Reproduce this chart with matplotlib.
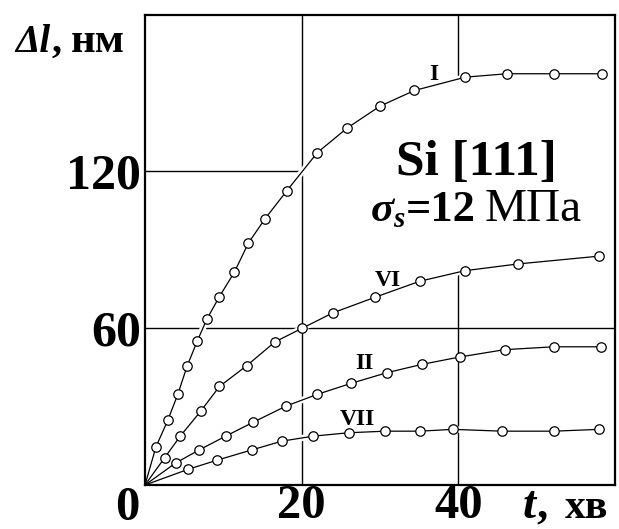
import matplotlib
matplotlib.use('Agg')
import matplotlib.pyplot as plt
from matplotlib.patches import Rectangle

# ---- data ----
t_I = [0, 1.4, 2.9, 4.2, 5.4, 6.7, 7.9, 9.5, 11.4, 13.2, 15.3, 18.1, 22.0, 25.8, 30.0, 34.4, 40.9, 46.2, 52.2, 58.3]
dl_I = [0, 14.6, 24.7, 34.8, 45.7, 55.3, 63.5, 72.1, 81.4, 92.6, 101.8, 112.6, 127.2, 136.6, 145.0, 151.0, 156.1, 157.4, 157.4, 157.4]

t_VI = [0, 2.5, 4.5, 7.1, 9.5, 13.0, 16.6, 20.0, 24.0, 29.4, 35.1, 40.8, 47.6, 58.0]
dl_VI = [0, 10.4, 18.7, 28.2, 37.7, 45.7, 54.8, 59.9, 65.9, 71.9, 78.0, 82.0, 84.6, 87.6]

t_II = [0, 3.9, 6.9, 10.3, 13.8, 18.0, 22.0, 26.3, 30.9, 35.4, 40.2, 45.9, 52.2, 58.2]
dl_II = [0, 8.4, 13.4, 18.7, 24.0, 30.2, 34.7, 38.9, 43.0, 46.2, 49.0, 51.8, 52.9, 52.9]

t_VII = [0, 5.5, 9.2, 13.6, 17.5, 21.5, 26.0, 30.7, 35.1, 39.3, 45.6, 52.2, 58.0]
dl_VII = [0, 6.0, 9.5, 13.4, 16.8, 18.7, 20.0, 20.6, 20.6, 21.3, 20.6, 20.6, 21.3]

curve_names = ['I', 'VI', 'II', 'VII']
x_ticks = [20, 40]
y_ticks = [60, 120]

# ---- style ----
SERIF = 'Liberation Serif'

W, H = 619, 529
fig = plt.figure(figsize=(W / 100, H / 100), dpi=100)
renderer = fig.canvas.get_renderer()
ax = fig.add_axes([145 / W, 44 / H, 470 / W, 470.3 / H])
ax.set_xlim(0, 60)
ax.set_ylim(0, 180)

for s in ax.spines.values():
    s.set_linewidth(1.6)
    s.set_color('black')
    s.set_zorder(2.5)

ax.set_xticks(x_ticks)
ax.set_xticklabels([str(v) for v in x_ticks])
ax.set_yticks(y_ticks)
ax.set_yticklabels([str(v) for v in y_ticks])
ax.tick_params(axis='x', length=0, labelsize=35, pad=-0.5)
ax.tick_params(axis='y', length=0, labelsize=36, pad=3)
for lab in ax.get_xticklabels() + ax.get_yticklabels():
    lab.set_fontfamily(SERIF)
    lab.set_fontweight('bold')
ax.set_axisbelow(True)
ax.grid(True, color='black', linewidth=1.0)

# white area behind the annotation text
ax.add_patch(Rectangle((20.3, 82.5), 39.6, 72.0, facecolor='white',
                       edgecolor='none', zorder=1.5))

series = [(t_I, dl_I), (t_VI, dl_VI), (t_II, dl_II), (t_VII, dl_VII)]
for t, d in series:
    ax.plot(t, d, color='white', linewidth=4.5, zorder=2.0, solid_capstyle='butt')
for t, d in series:
    ax.plot(t, d, color='black', linewidth=0.9, zorder=3)
    ax.plot(t[1:], d[1:], linestyle='none', marker='o', markersize=6.8,
            markerfacecolor='white', markeredgecolor='black',
            markeredgewidth=0.9, zorder=4)

# curve labels
label_pos = [(36.9, 155.0), (31.0, 76.3), (28.0, 44.3), (27.1, 22.9)]
for name, (x, y) in zip(curve_names, label_pos):
    ax.text(x, y, name, ha='center', va='baseline', fontsize=17,
            fontfamily=SERIF, fontweight='bold', zorder=5)


def put(x_px, y_px, s, **kw):
    """Place text left/baseline at pixel position, return its right edge (px)."""
    txt = fig.text(x_px / W, 1 - y_px / H, s, ha='left', va='baseline',
                   fontfamily=SERIF, **kw)
    return txt.get_window_extent(renderer).x1


# annotation
put(396, 175, 'Si [111]', fontsize=37, fontweight='bold')
x = 371
x = put(x, 221, 'σ', fontsize=31, fontweight='bold', fontstyle='italic')
x = put(x - 1, 227, 's', fontsize=21, fontweight='bold', fontstyle='italic')
x = put(x + 1, 221, '=12', fontsize=32, fontweight='bold')
x = put(x + 9, 221, 'МПа', fontsize=34)

# corner zero
fig.text(127 / W, 1 - 520 / H, '0', ha='center', va='baseline', fontsize=35,
         fontfamily=SERIF, fontweight='bold')

# axis labels
x = put(15, 52, 'Δl', fontsize=28, fontweight='bold', fontstyle='italic')
x = put(x + 1, 52, ',', fontsize=29, fontweight='bold')
x = put(x + 10, 52, 'нм', fontsize=31, fontweight='bold')

x = put(523, 518, 't', fontsize=34, fontweight='bold', fontstyle='italic')
x = put(x, 518, ',', fontsize=32, fontweight='bold')
x = put(565, 518, 'хв', fontsize=30, fontweight='bold')

fig.savefig('out.png', dpi=100)
